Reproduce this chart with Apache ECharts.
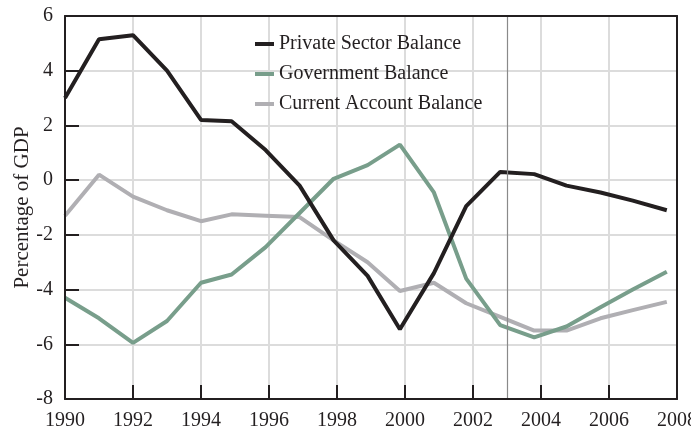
<!DOCTYPE html>
<html>
<head>
<meta charset="utf-8">
<script src="https://cdn.jsdelivr.net/npm/echarts@6/dist/echarts.min.js"></script>
<style>html,body{margin:0;padding:0;background:#fff}#c{width:691px;height:434px}</style>
</head>
<body>
<div id="c"></div>
<script>
var years = [1990, 1991, 1992, 1993, 1994, 1994.9, 1995.9, 1996.9, 1997.9, 1998.9, 1999.85, 2000.85, 2001.8, 2002.8, 2003.8, 2004.75, 2005.75, 2006.7, 2007.7];
var privateSector = [3.0, 5.15, 5.3, 4.0, 2.2, 2.15, 1.1, -0.2, -2.2, -3.5, -5.45, -3.4, -0.95, 0.3, 0.22, -0.2, -0.45, -0.75, -1.1];
var government = [-4.3, -5.05, -5.95, -5.15, -3.75, -3.45, -2.45, -1.2, 0.05, 0.55, 1.3, -0.45, -3.6, -5.3, -5.75, -5.35, -4.65, -4.0, -3.35];
var currentAccount = [-1.3, 0.2, -0.6, -1.1, -1.5, -1.25, -1.3, -1.35, -2.2, -3.0, -4.05, -3.75, -4.5, -5.0, -5.5, -5.5, -5.05, -4.75, -4.45];
var seriesNames = ['Private Sector Balance', 'Government Balance', 'Current Account Balance'];
var markerYear = 2003;

function pairs(vals) { return years.map(function (x, i) { return [x, vals[i]]; }); }

var FONT = '"Liberation Serif", "DejaVu Serif", serif';
var INK = '#231f20';
var GRID = '#dcdcdc';
function borderAxis(extra) {
  var a = {
    type: 'value', z: 10,
    axisLine: { show: true, onZero: false, lineStyle: { color: INK, width: 2 } },
    axisTick: { show: false }, axisLabel: { show: false }, splitLine: { show: false }
  };
  for (var k in extra) a[k] = extra[k];
  return a;
}
function gridAxis(extra) {
  var a = {
    type: 'value', z: 0,
    axisLine: { show: false }, axisTick: { show: false }, axisLabel: { show: false },
    splitLine: { show: true, lineStyle: { color: GRID, width: 2 } }
  };
  for (var k in extra) a[k] = extra[k];
  return a;
}
var chart = echarts.init(document.getElementById('c'));
chart.setOption({
  animation: false,
  textStyle: { fontFamily: FONT },
  grid: { left: 65, right: 14, top: 16, bottom: 35, containLabel: false, outerBoundsMode: 'none' },
  legend: {
    orient: 'vertical', left: 250, top: 29, itemWidth: 19, itemHeight: 4, itemGap: 10,
    icon: 'rect',
    textStyle: { fontFamily: FONT, fontSize: 20, color: INK },
    data: seriesNames
  },
  xAxis: [{
    type: 'value', min: 1990, max: 2008, interval: 2, z: 10,
    axisLine: { show: true, onZero: false, lineStyle: { color: INK, width: 2 } },
    axisTick: { show: true, inside: true, length: 14, lineStyle: { color: INK, width: 2 } },
    axisLabel: { color: INK, fontSize: 20, fontFamily: FONT, margin: 12, formatter: function (v) { return String(v); } },
    splitLine: { show: false }
  },
    gridAxis({ min: 1990, max: 2008, interval: 2, position: 'top' }),
    borderAxis({ min: 1990, max: 2008, position: 'top' })
  ],
  yAxis: [{
    type: 'value', min: -8, max: 6, interval: 2, z: 10,
    name: 'Percentage of GDP', nameLocation: 'middle', nameGap: 32, nameMoveOverlap: false,
    nameTextStyle: { color: INK, fontSize: 21, fontFamily: FONT },
    axisLine: { show: true, onZero: false, lineStyle: { color: INK, width: 2 } },
    axisTick: { show: true, inside: true, length: 14, lineStyle: { color: INK, width: 2 } },
    axisLabel: { color: INK, fontSize: 20, fontFamily: FONT, margin: 12 },
    splitLine: { show: false }
  },
    gridAxis({ min: -8, max: 6, interval: 2, position: 'right' }),
    borderAxis({ min: -8, max: 6, position: 'right' })
  ],
  series: [
    {
      name: seriesNames[2], type: 'line', data: pairs(currentAccount), symbol: 'none',
      lineStyle: { color: '#b0afb3', width: 4 }, itemStyle: { color: '#b0afb3' }, z: 2,
      markLine: {
        silent: true, symbol: 'none', label: { show: false },
        lineStyle: { color: '#8a8a8a', width: 1.2, type: 'solid' },
        data: [{ xAxis: markerYear }]
      }
    },
    {
      name: seriesNames[1], type: 'line', data: pairs(government), symbol: 'none',
      lineStyle: { color: '#789e8b', width: 4 }, itemStyle: { color: '#789e8b' }, z: 3
    },
    {
      name: seriesNames[0], type: 'line', data: pairs(privateSector), symbol: 'none',
      lineStyle: { color: INK, width: 4 }, itemStyle: { color: INK }, z: 4
    }
  ]
});
</script>
</body>
</html>
